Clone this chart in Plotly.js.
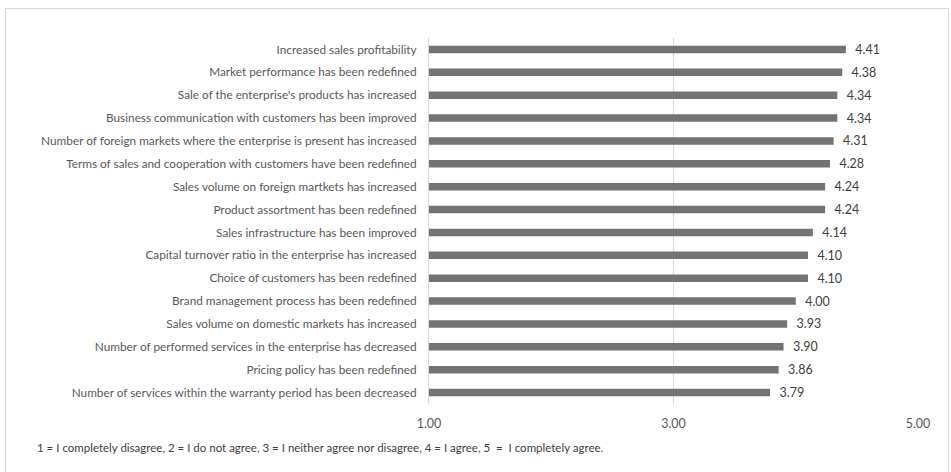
<!DOCTYPE html>
<html>
<head>
<meta charset="utf-8">
<script src="https://cdn.plot.ly/plotly-3.0.1.min.js"></script>
<style>html,body{margin:0;padding:0;background:#fff;}#chart{width:951px;height:472px;}</style>
</head>
<body>
<div id="chart"></div>
<script>
const categories = [
  "Increased sales profitability",
  "Market performance has been redefined",
  "Sale of the enterprise's products has increased",
  "Business communication with customers has been improved",
  "Number of foreign markets where the enterprise is present has increased",
  "Terms of sales and cooperation with customers have been redefined",
  "Sales volume on foreign martkets has increased",
  "Product assortment has been redefined",
  "Sales infrastructure has been improved",
  "Capital turnover ratio in the enterprise has increased",
  "Choice of customers has been redefined",
  "Brand management process has been redefined",
  "Sales volume on domestic markets has increased",
  "Number of performed services in the enterprise has decreased",
  "Pricing policy has been redefined",
  "Number of services within the warranty period has been decreased"
];
const values = [4.41, 4.38, 4.34, 4.34, 4.31, 4.28, 4.24, 4.24, 4.14, 4.10, 4.10, 4.00, 3.93, 3.90, 3.86, 3.79];
const tickValues = [1, 3, 5];
const tickLabels = ["1.00", "3.00", "5.00"];
const footnote = "1 = I completely disagree, 2 = I do not agree, 3 = I neither agree nor disagree, 4 = I agree, 5 &nbsp;= &nbsp;I completely agree.";

const font = "Lato, 'Open Sans', sans-serif";

const L = 429, W = 489, T = 38, H = 366;

const trace = {
  type: "bar",
  orientation: "h",
  y: categories,
  x: values.map(v => v - 1),
  base: 1,
  width: 0.33,
  marker: { color: "#737373", line: { width: 0 } },
  text: values.map(v => "\u00a0\u00a0" + v.toFixed(2)),
  textposition: "outside",
  constraintext: "none",
  cliponaxis: false,
  textfont: { family: font, size: 12.5, color: "#404040" },
  hoverinfo: "skip"
};

const layout = {
  width: 951, height: 472,
  margin: { l: L, r: 951 - L - W, t: T, b: 472 - T - H },
  paper_bgcolor: "#ffffff",
  plot_bgcolor: "#ffffff",
  showlegend: false,
  xaxis: {
    range: [1, 5],
    tickvals: tickValues,
    ticktext: tickLabels,
    showgrid: true,
    gridcolor: "#d9d9d9",
    gridwidth: 1,
    zeroline: false,
    showline: false,
    ticks: "",
    ticklabelstandoff: 10,
    tickfont: { family: font, size: 12.5, color: "#595959" },
    fixedrange: true
  },
  yaxis: {
    type: "category",
    autorange: "reversed",
    showline: true,
    linecolor: "#d9d9d9",
    linewidth: 1,
    showgrid: false,
    ticks: "",
    ticklabelstandoff: 9,
    tickfont: { family: font, size: 11.8, color: "#595959" },
    fixedrange: true
  },
  shapes: [{
    type: "rect", xref: "paper", yref: "paper",
    x0: (5.5 - L) / W, x1: (948.5 - L) / W,
    y0: (T + H - 480) / H, y1: (T + H - 8.5) / H,
    line: { color: "#d9d9d9", width: 1 }, fillcolor: "rgba(0,0,0,0)", layer: "below"
  }],
  annotations: [{
    xref: "paper", yref: "paper",
    x: (35 - L) / W, y: (T + H - 447) / H,
    xanchor: "left", yanchor: "middle",
    text: footnote, showarrow: false,
    font: { family: font, size: 11.5, color: "#404040" }
  }]
};

Plotly.newPlot("chart", [trace], layout, { displayModeBar: false, staticPlot: true });
</script>
</body>
</html>
